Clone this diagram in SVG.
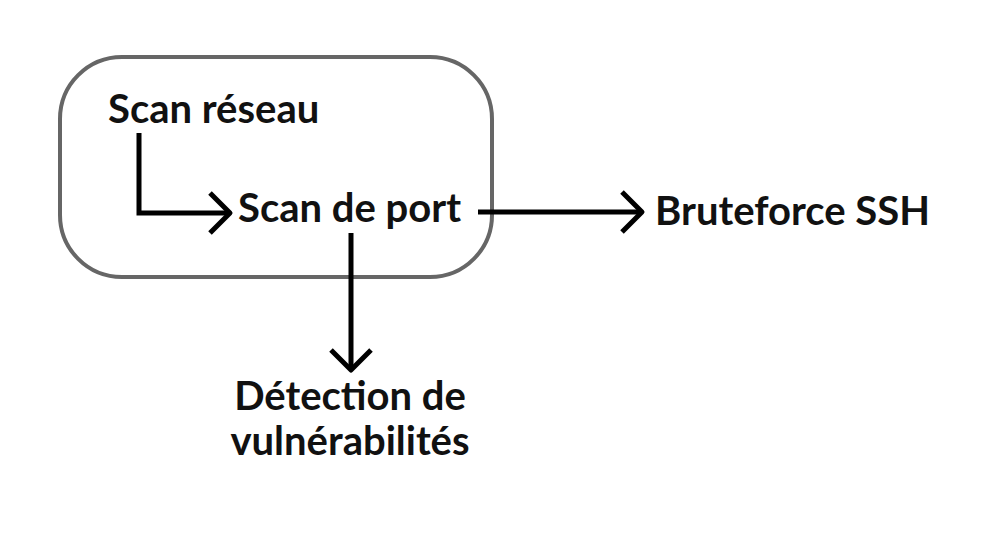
<svg xmlns="http://www.w3.org/2000/svg" width="1000" height="550" viewBox="0 0 1000 550">
<style>
.lbl{font-family:Lato,"Noto Sans",sans-serif;font-weight:700;font-size:40px;fill:#111111}
.conn{fill:none;stroke:#000000;stroke-width:5;marker-end:url(#chev)}
</style>
<defs>
<marker id="chev" markerUnits="userSpaceOnUse" viewBox="-30 -30 60 60" markerWidth="60" markerHeight="60" refX="0" refY="0" orient="auto" overflow="visible">
<path d="M -20 -20 L 0 0 L -20 20" fill="none" stroke="#000000" stroke-width="5" stroke-linejoin="round"/>
</marker>
</defs>
<rect width="1000" height="550" fill="#ffffff"/>
<g id="group-box">
<rect x="60" y="57" width="432" height="220" rx="62" ry="62" fill="none" stroke="#666666" stroke-width="4"/>
</g>
<g id="connectors">
<path class="conn" d="M 139 133 L 139 213 L 230 213"/>
<path class="conn" d="M 478 212 L 642 212"/>
<path class="conn" d="M 351 233 L 351 370"/>
</g>
<g id="node-scan-reseau"><text class="lbl" x="108" y="123">Scan réseau</text></g>
<g id="node-scan-port"><text class="lbl" x="238" y="222">Scan de port</text></g>
<g id="node-bruteforce"><text class="lbl" x="655" y="225">Bruteforce SSH</text></g>
<g id="node-detection"><text class="lbl" x="350" y="410" text-anchor="middle">Détection de</text><text class="lbl" x="350" y="455" text-anchor="middle">vulnérabilités</text></g>
</svg>
